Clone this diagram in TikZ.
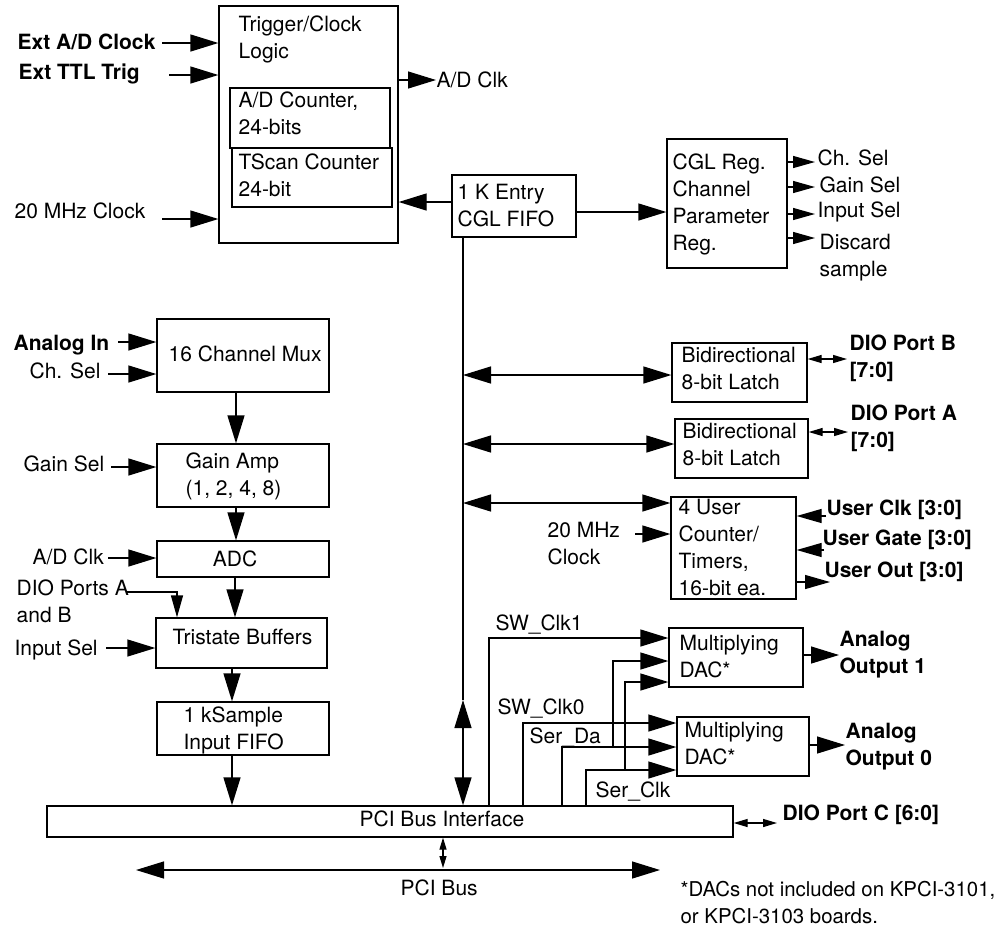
\documentclass[tikz,border=0pt]{standalone}
\usepackage{fontspec}
\setmainfont{TeX Gyre Heros}
\usetikzlibrary{arrows.meta,fit,calc}
\newcommand\fsz{\fontsize{10.5}{13.4}\selectfont}
\begin{document}
\begin{tikzpicture}[x=0.5pt,y=-0.5pt,line width=0.65pt,
  box/.style={draw,inner sep=0pt,line width=0.65pt},
  txt/.style={inner sep=0pt,anchor=base west,font=\fsz,align=left},
  btxt/.style={txt,font=\fsz\bfseries},
  big/.style={-{Triangle[length=14pt,width=8.5pt]}},
  bigboth/.style={{Triangle[length=14pt,width=8.5pt]}-{Triangle[length=14pt,width=8.5pt]}},
  med/.style={-{Triangle[length=11pt,width=6pt]}},
  medbig/.style={-{Triangle[length=12.5pt,width=7pt]}},
  smallboth/.style={{Triangle[length=7pt,width=4pt]}-{Triangle[length=7pt,width=4pt]}},
  tinyboth/.style={{Triangle[length=6pt,width=3.5pt]}-{Triangle[length=6pt,width=3.5pt]}}]
\useasboundingbox (0,0) rectangle (1007,928);

% ---------- boxes ----------
\node[box,fit={(219,6) (398,243)}] (trig) {};
\node[box,fit={(230,88) (390,148)}] (adcnt) {};
\node[box,fit={(232,148) (392,207)}] (tscan) {};
\node[box,fit={(452,175) (576,237)}] (cglfifo) {};
\node[box,fit={(667,139) (787,268)}] (cglreg) {};
\node[box,fit={(672,343) (807,402)}] (latchB) {};
\node[box,fit={(675,419) (808,478)}] (latchA) {};
\node[box,fit={(671,497) (796,599)}] (ctr) {};
\node[box,fit={(669,628) (803,687)}] (dac1) {};
\node[box,fit={(677,717) (809,776)}] (dac0) {};
\node[box,fit={(157,319) (329,392)}] (mux) {};
\node[box,fit={(157,444) (329,507)}] (gain) {};
\node[box,fit={(157,541) (329,577)}] (adc) {};
\node[box,fit={(156,618) (327,668)}] (tri) {};
\node[box,fit={(157,702) (329,755)}] (infifo) {};
\node[box,fit={(47,806) (733,837)}] (pci) {};

% ---------- texts (multi-line: position = baseline of last line) ----------
\node[btxt] (tExtAD) at (17,49) {Ext A/D Clock};
\node[btxt] (tExtTTL) at (18,79) {Ext TTL Trig};
\node[txt] (tTrig) at (238,58) {Trigger/Clock\\Logic};
\node[txt] (tADClk) at (436,87) {A/D Clk};
\node[txt] (tADCnt) at (238,134) {A/D Counter,\\24-bits};
\node[txt] (tTScan) at (238,196) {TScan Counter\\24-bit};
\node[txt] (t20) at (14,218) {20 MHz Clock};
\node[txt] (tFifo) at (457,226) {1 K Entry\\CGL FIFO};
\node[txt] (tCgl) at (672,250) {CGL Reg.\\Channel\\Parameter\\Reg.};
\node[txt] (tChSelO) at (817,165) {Ch. Sel};
\node[txt] (tGainSelO) at (819,192) {Gain Sel};
\node[txt] (tInSelO) at (817,217) {Input Sel};
\node[txt] (tDiscard) at (819,276) {Discard\\sample};

\node[btxt] (tAIn) at (13,350) {Analog In};
\node[txt] (tChSel) at (29,378) {Ch. Sel};
\node[txt] (tMux) at (168,361) {16 Channel Mux};
\node[txt] (tGainSel) at (23,471) {Gain Sel};
\node[txt] (tGain) at (185,495) {Gain Amp\\(1, 2, 4, 8)};
\node[txt] (tADClkL) at (32,564) {A/D Clk};
\node[txt,anchor=base] (tADC) at (235,566) {ADC};
\node[txt] (tDioAB) at (16,622) {DIO Ports A\\and B};
\node[txt] (tTri) at (172,644) {Tristate Buffers};
\node[txt] (tInSel) at (14,655) {Input Sel};
\node[txt] (tInFifo) at (183,749) {1 kSample\\Input FIFO};
\node[txt] (tPci) at (359,826) {PCI Bus Interface};
\node[txt] (tPciBus) at (400,895) {PCI Bus};
\node[btxt] (tDioC) at (782,820) {DIO Port C [6:0]};
\node[txt,font=\fontsize{10.2}{13.4}\selectfont] (tNote) at (680,923) {*DACs not included on KPCI-3101,\\or KPCI-3103 boards.};

\node[txt] (tLatchB) at (681,389) {Bidirectional\\8-bit Latch};
\node[txt] (tLatchA) at (682,465) {Bidirectional\\8-bit Latch};
\node[btxt] (tDioB) at (849,377) {DIO Port B\\{[7:0]}};
\node[btxt] (tDioA) at (850,447) {DIO Port A\\{[7:0]}};
\node[txt] (tCtr) at (678,595) {4 User\\Counter/\\Timers,\\16-bit ea.};
\node[txt] (t20b) at (547,564) {20 MHz\\Clock};
\node[btxt] (tUClk) at (826,515) {User Clk [3:0]};
\node[btxt] (tUGate) at (822,545) {User Gate [3:0]};
\node[btxt] (tUOut) at (824,577) {User Out [3:0]};

\node[txt] (tSW1) at (495,630) {SW\_Clk1};
\node[txt] (tSW0) at (497,714) {SW\_Clk0};
\node[txt] (tSerDa) at (529,743) {Ser\_Da};
\node[txt] (tSerClk) at (595,797) {Ser\_Clk};
\node[txt] (tDac1) at (679,677) {Multiplying\\DAC*};
\node[txt] (tDac0) at (684,764) {Multiplying\\DAC*};
\node[btxt] (tAO1) at (839,673) {Analog\\Output 1};
\node[btxt] (tAO0) at (845,765) {Analog\\Output 0};

% ---------- coordinates for free ends ----------
\coordinate (cExtAD) at (162,43);
\coordinate (cExtTTL) at (169,75);
\coordinate (c20) at (162,219);
\coordinate (cADClk) at (436,80);
\coordinate (y202) at (0,202);
\coordinate (y212) at (0,212);
\coordinate (o1) at (815,162);
\coordinate (o2) at (815,187);
\coordinate (o3) at (815,214);
\coordinate (o4) at (815,238);
\coordinate (busx) at (463,0);
\coordinate (y700) at (0,700);
\coordinate (y375) at (0,375);
\coordinate (y444) at (0,444);
\coordinate (y503) at (0,503);
\coordinate (cDioB) at (847,359);
\coordinate (cDioA) at (848,432);
\coordinate (c20b) at (635,534);
\coordinate (cUClk) at (826,516);
\coordinate (cUGate) at (824,550);
\coordinate (cUOut) at (830,582);
\coordinate (cAIn) at (118,342);
\coordinate (cChSel) at (108,374);
\coordinate (cGainSel) at (111,467);
\coordinate (cADClkL) at (108,558);
\coordinate (cInSel) at (106,648);
\coordinate (cDioAB) at (126,592);
\coordinate (cDioABx) at (177,592);
\coordinate (x236) at (236,0);
\coordinate (x235) at (235,0);
\coordinate (x232) at (232,0);
\coordinate (x443) at (443,0);
\coordinate (y868) at (0,868);
\coordinate (cPciL) at (136,870);
\coordinate (cPciR) at (660,870);
\coordinate (cDioC) at (777,823);
\coordinate (sw1) at (489,638);
\coordinate (sd1) at (613,661);
\coordinate (sc1) at (625,682);
\coordinate (sw0) at (523,723);
\coordinate (sd0) at (562,747);
\coordinate (sc0) at (586,770);
\coordinate (cAO1) at (839,655);
\coordinate (cAO0) at (845,745);

% ---------- connectors: top ----------
\draw[big] (cExtAD) -- (cExtAD -| trig.west);
\draw[big] (cExtTTL) -- (cExtTTL -| trig.west);
\draw[big] (c20) -- (c20 -| trig.west);
\draw[big] (cADClk -| trig.east) -- (cADClk);
\draw[big] (cglfifo.west |- y202) -- (trig.east |- y202);
\draw[big] (cglfifo.east |- y212) -- (cglreg.west |- y212);
\draw[med] (o1 -| cglreg.east) -- (o1);
\draw[med] (o2 -| cglreg.east) -- (o2);
\draw[med] (o3 -| cglreg.east) -- (o3);
\draw[med] (o4 -| cglreg.east) -- (o4);

% ---------- bus ----------
\draw (busx |- cglfifo.south) -- (busx |- y700);
\draw[bigboth] (busx |- y700) -- (busx |- pci.north);
\draw[bigboth] (busx |- y375) -- (latchB.west |- y375);
\draw[bigboth] (busx |- y444) -- (latchA.west |- y444);
\draw[bigboth] (busx |- y503) -- (ctr.west |- y503);
\draw[smallboth] (cDioB -| latchB.east) -- (cDioB);
\draw[smallboth] (cDioA -| latchA.east) -- (cDioA);
\draw[big] (c20b) -- (c20b -| ctr.west);
\draw[medbig] (cUClk) -- (cUClk -| ctr.east);
\draw[medbig] (cUGate) -- (cUGate -| ctr.east);
\draw[medbig] (cUOut -| ctr.east) -- (cUOut);

% ---------- left chain ----------
\draw[big] (cAIn) -- (cAIn -| mux.west);
\draw[big] (cChSel) -- (cChSel -| mux.west);
\draw[big] (cGainSel) -- (cGainSel -| gain.west);
\draw[big] (cADClkL) -- (cADClkL -| adc.west);
\draw[big] (cInSel) -- (cInSel -| tri.west);
\draw[med] (cDioAB) -- (cDioABx) -- (cDioABx |- tri.north);
\draw[big] (x236 |- mux.south) -- (x236 |- gain.north);
\draw[big] (x236 |- gain.south) -- (x236 |- adc.north);
\draw[big] (x235 |- adc.south) -- (x235 |- tri.north);
\draw[big] (x232 |- tri.south) -- (x232 |- infifo.north);
\draw[big] (x232 |- infifo.south) -- (x232 |- pci.north);

% ---------- PCI ----------
\draw[tinyboth] (x443 |- pci.south) -- (x443 |- y868);
\draw[bigboth] (cPciL) -- (cPciR);
\draw[smallboth] (cDioC -| pci.east) -- (cDioC);

% ---------- DACs ----------
\draw[big] (sw1 |- pci.north) |- (sw1 -| dac1.west);
\draw[big] (sd1 |- sd0) |- (sd1 -| dac1.west);
\draw[big] (sc1 |- sc0) |- (sc1 -| dac1.west);
\draw[big] (sw0 |- pci.north) |- (sw0 -| dac0.west);
\draw[big] (sd0 |- pci.north) |- (sd0 -| dac0.west);
\draw[big] (sc0 |- pci.north) |- (sc0 -| dac0.west);
\draw[big] (cAO1 -| dac1.east) -- (cAO1);
\draw[big] (cAO0 -| dac0.east) -- (cAO0);
\end{tikzpicture}
\end{document}
